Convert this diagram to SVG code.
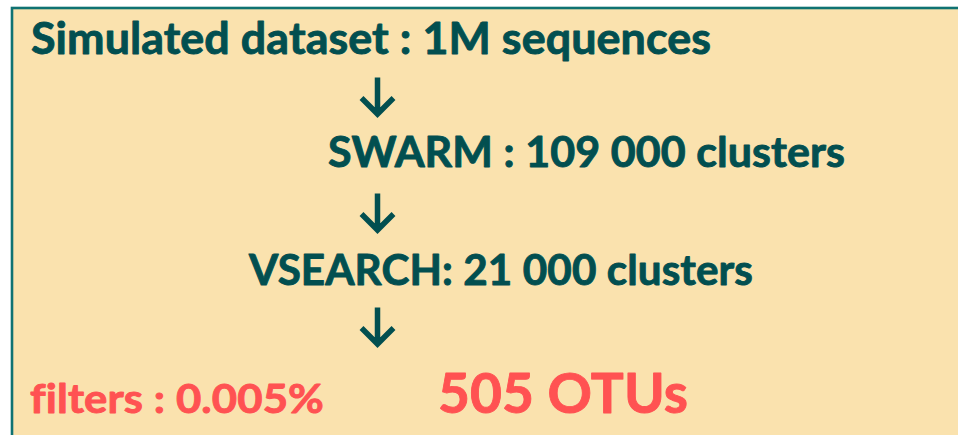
<svg xmlns="http://www.w3.org/2000/svg" width="958" height="435" viewBox="0 0 958 435">
  <style>
    .t { font-family: Lato, "Open Sans", "Liberation Sans", sans-serif; font-weight: bold; font-variant-ligatures: none; font-feature-settings: "liga" 0; letter-spacing: 0.1px; stroke-width: 0.9; stroke-linejoin: round; }
    .teal { fill: #024F50; stroke: #024F50; }
    .red { fill: #FF5252; stroke: #FF5252; }
    .arrow { fill: none; stroke: #024F50; stroke-width: 5.5; }
  </style>
  <rect width="958" height="435" fill="#ffffff"/>
  <g id="panel">
    <rect x="12" y="8" width="960" height="440" fill="#FAE2AE" stroke="#0F7272" stroke-width="2.6"/>
  </g>
  <g id="node-dataset">
    <text class="t teal" x="31" y="53.5" font-size="44" textLength="680" lengthAdjust="spacingAndGlyphs">Simulated dataset : 1M sequences</text>
  </g>
  <g id="node-swarm">
    <text class="t teal" x="328" y="167" font-size="42" textLength="517" lengthAdjust="spacingAndGlyphs">SWARM : 109 000 clusters</text>
  </g>
  <g id="node-vsearch">
    <text class="t teal" x="249" y="284.5" font-size="42" textLength="504" lengthAdjust="spacingAndGlyphs">VSEARCH: 21 000 clusters</text>
  </g>
  <g id="node-filters">
    <text class="t red" x="30" y="412.7" font-size="41" textLength="294" lengthAdjust="spacingAndGlyphs">filters : 0.005%</text>
  </g>
  <g id="node-otus">
    <text class="t red" x="438" y="412.5" font-size="56" textLength="250" lengthAdjust="spacingAndGlyphs">505 OTUs</text>
  </g>
  <g id="connectors">
    <path class="arrow" d="M377.5 77.5 V112 M361.5 98 L377.5 114 L393.5 98"/>
    <path class="arrow" d="M377.5 193.5 V228 M361.5 214 L377.5 230 L393.5 214"/>
    <path class="arrow" d="M377.5 307.5 V342 M361.5 328 L377.5 344 L393.5 328"/>
  </g>
</svg>
